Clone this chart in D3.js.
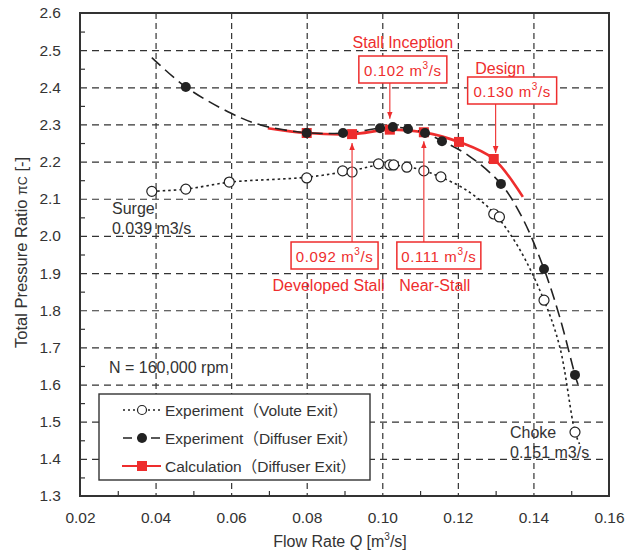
<!DOCTYPE html>
<html>
<head>
<meta charset="utf-8">
<script src="https://cdn.jsdelivr.net/npm/d3@7"></script>
<style>
  body { margin: 0; background: #fff; }
  text { font-family: "Liberation Sans", Arial, "Noto Sans CJK JP", sans-serif; }
</style>
</head>
<body>
<div id="chart"></div>
<script>
// Experiment (Volute Exit) - open circles
const voluteQ = [0.039, 0.048, 0.0595, 0.080, 0.0895, 0.092, 0.099, 0.102, 0.103, 0.1065, 0.111, 0.1155, 0.1295, 0.131, 0.1428, 0.151];
const voluteP = [2.120, 2.126, 2.145, 2.156, 2.175, 2.172, 2.194, 2.191, 2.191, 2.185, 2.175, 2.159, 2.059, 2.051, 1.827, 1.472];
// smoothed trend through the volute points
const voluteLineQ = [0.039, 0.048, 0.060, 0.080, 0.092, 0.100, 0.106, 0.111, 0.1155, 0.122, 0.1295, 0.136, 0.1428, 0.147, 0.151, 0.1522];
const voluteLineP = [2.120, 2.126, 2.145, 2.158, 2.176, 2.192, 2.187, 2.176, 2.158, 2.125, 2.062, 1.970, 1.827, 1.700, 1.472, 1.440];

// Experiment (Diffuser Exit) - filled circles
const diffQ = [0.048, 0.080, 0.0896, 0.0994, 0.1028, 0.1068, 0.1113, 0.1158, 0.1314, 0.1428, 0.151];
const diffP = [2.401, 2.277, 2.277, 2.290, 2.293, 2.288, 2.277, 2.255, 2.140, 1.911, 1.626];
const diffLineQ = [0.039, 0.048, 0.060, 0.068, 0.080, 0.090, 0.100, 0.103, 0.107, 0.111, 0.116, 0.123, 0.1314, 0.137, 0.1428, 0.147, 0.151, 0.1518];
const diffLineP = [2.480, 2.401, 2.330, 2.298, 2.278, 2.277, 2.291, 2.293, 2.288, 2.278, 2.255, 2.215, 2.140, 2.050, 1.911, 1.780, 1.626, 1.600];

// Calculation (Diffuser Exit) - red squares
const calcQ = [0.080, 0.092, 0.102, 0.111, 0.1203, 0.1295];
const calcP = [2.277, 2.274, 2.286, 2.279, 2.253, 2.207];
const calcLineQ = [0.0697, 0.080, 0.092, 0.102, 0.111, 0.1203, 0.1295, 0.1372];
const calcLineP = [2.290, 2.277, 2.274, 2.286, 2.279, 2.253, 2.207, 2.105];

const xTicks = [0.02, 0.04, 0.06, 0.08, 0.10, 0.12, 0.14, 0.16];
const xMinor = [0.03, 0.05, 0.07, 0.09, 0.11, 0.13, 0.15];
const yTicks = [1.3, 1.4, 1.5, 1.6, 1.7, 1.8, 1.9, 2.0, 2.1, 2.2, 2.3, 2.4, 2.5, 2.6];
const yMinor = [1.35, 1.45, 1.55, 1.65, 1.75, 1.85, 1.95, 2.05, 2.15, 2.25, 2.35, 2.45, 2.55];

const noteQ = [0.102, 0.130, 0.092, 0.111];
const noteP = [2.286, 2.207, 2.274, 2.279];
const noteTitle = ["Stall Inception", "Design", "Developed Stall", "Near-Stall"];
const noteValue = ["0.102", "0.130", "0.092", "0.111"];

const legendNames = ["Experiment（Volute Exit）", "Experiment（Diffuser Exit）", "Calculation（Diffuser Exit）"];

const width = 635, height = 554;
const margin = {top: 13, right: 26, bottom: 58, left: 80};
const red = "#ee2d2d";
const ink = "#222";

const x = d3.scaleLinear().domain([0.02, 0.16]).range([margin.left, width - margin.right]);
const y = d3.scaleLinear().domain([1.3, 2.6]).range([height - margin.bottom, margin.top]);

const svg = d3.select("#chart").append("svg")
    .attr("width", width)
    .attr("height", height);

// grid
svg.append("g")
    .attr("transform", `translate(0,${margin.top})`)
    .call(d3.axisBottom(x).tickValues(xTicks.slice(1, -1)).tickSize(height - margin.top - margin.bottom).tickFormat(""))
    .call(g => g.select(".domain").remove())
    .call(g => g.selectAll("line").attr("stroke", "#333").attr("stroke-width", 1.2).attr("stroke-dasharray", "6,4"));

svg.append("g")
    .attr("transform", `translate(${margin.left},0)`)
    .call(d3.axisRight(y).tickValues(yTicks.slice(1, -1)).tickSize(width - margin.left - margin.right).tickFormat(""))
    .call(g => g.select(".domain").remove())
    .call(g => g.selectAll("line").attr("stroke", "#333").attr("stroke-width", 1.2).attr("stroke-dasharray", "7,5"));

// minor ticks (inside)
svg.append("g")
    .attr("transform", `translate(0,${height - margin.bottom})`)
    .call(d3.axisTop(x).tickValues(xMinor).tickSize(5).tickFormat(""))
    .call(g => g.select(".domain").remove())
    .call(g => g.selectAll("line").attr("stroke", "#333").attr("stroke-width", 1.2));

svg.append("g")
    .attr("transform", `translate(${margin.left},0)`)
    .call(d3.axisRight(y).tickValues(yMinor).tickSize(5).tickFormat(""))
    .call(g => g.select(".domain").remove())
    .call(g => g.selectAll("line").attr("stroke", "#333").attr("stroke-width", 1.2));

// tick labels
svg.append("g")
    .attr("transform", `translate(0,${height - margin.bottom})`)
    .call(d3.axisBottom(x).tickValues(xTicks).tickSize(0).tickPadding(16).tickFormat(d3.format(".2f")))
    .call(g => g.select(".domain").remove())
    .call(g => g.selectAll("text").attr("font-size", 15.5).attr("fill", "#333")
        .style("font-family", '"Liberation Sans", Arial, sans-serif'));

svg.append("g")
    .attr("transform", `translate(${margin.left},0)`)
    .call(d3.axisLeft(y).tickValues(yTicks).tickSize(0).tickPadding(19).tickFormat(d3.format(".1f")))
    .call(g => g.select(".domain").remove())
    .call(g => g.selectAll("text").attr("font-size", 15.5).attr("fill", "#333")
        .style("font-family", '"Liberation Sans", Arial, sans-serif'));

// frame
svg.append("rect")
    .attr("x", margin.left).attr("y", margin.top)
    .attr("width", width - margin.left - margin.right)
    .attr("height", height - margin.top - margin.bottom)
    .attr("fill", "none").attr("stroke", "#333").attr("stroke-width", 2);

// axis titles
const xt = svg.append("text")
    .attr("x", 340).attr("y", 547)
    .attr("text-anchor", "middle").attr("font-size", 16).attr("fill", "#333");
xt.append("tspan").text("Flow Rate  ");
xt.append("tspan").attr("font-style", "italic").text("Q");
xt.append("tspan").text("  [m");
xt.append("tspan").attr("font-size", 10).attr("dy", -7).text("3");
xt.append("tspan").attr("dy", 7).text("/s]");

const yt = svg.append("text")
    .attr("transform", `translate(27,${(margin.top + height - margin.bottom) / 2 - 2}) rotate(-90)`)
    .attr("text-anchor", "middle").attr("font-size", 16.5).attr("fill", "#333");
yt.append("tspan").text("Total Pressure Ratio ");
yt.append("tspan").attr("font-size", 14).text("π");
yt.append("tspan").attr("font-size", 12.5).text("C");
yt.append("tspan").text(" [-]");

// series
const zip = (qs, ps) => qs.map((q, i) => [q, ps[i]]);
const line = d3.line().x(d => x(d[0])).y(d => y(d[1])).curve(d3.curveCatmullRom.alpha(0.5));

const plot = svg.append("g");

plot.append("path")
    .attr("d", line(zip(calcLineQ, calcLineP)))
    .attr("fill", "none").attr("stroke", red).attr("stroke-width", 2.6);

plot.append("path")
    .attr("d", line(zip(diffLineQ, diffLineP)))
    .attr("fill", "none").attr("stroke", ink).attr("stroke-width", 1.6)
    .attr("stroke-dasharray", "12,6");

plot.append("path")
    .attr("d", line(zip(voluteLineQ, voluteLineP)))
    .attr("fill", "none").attr("stroke", ink).attr("stroke-width", 1.6)
    .attr("stroke-dasharray", "2.5,3");

plot.selectAll("rect.calc")
    .data(zip(calcQ, calcP))
    .join("rect")
      .attr("class", "calc")
      .attr("x", d => x(d[0]) - 5).attr("y", d => y(d[1]) - 5)
      .attr("width", 10).attr("height", 10)
      .attr("fill", red);

plot.selectAll("circle.diff")
    .data(zip(diffQ, diffP))
    .join("circle")
      .attr("class", "diff")
      .attr("cx", d => x(d[0])).attr("cy", d => y(d[1]))
      .attr("r", 5).attr("fill", ink);

plot.selectAll("circle.vol")
    .data(zip(voluteQ, voluteP))
    .join("circle")
      .attr("class", "vol")
      .attr("cx", d => x(d[0])).attr("cy", d => y(d[1]))
      .attr("r", 5).attr("fill", "#fff").attr("stroke", ink).attr("stroke-width", 1.2);

// annotations
svg.append("defs").append("marker")
    .attr("id", "arrow")
    .attr("viewBox", "0 0 10 10")
    .attr("refX", 10).attr("refY", 5)
    .attr("markerWidth", 7).attr("markerHeight", 7)
    .attr("markerUnits", "userSpaceOnUse")
    .attr("orient", "auto")
  .append("path")
    .attr("d", "M0,1 L10,5 L0,9 Z")
    .attr("fill", red);

// box offset from the arrow, box top, title offset, arrow gap
const noteLayout = [
  {dx: -31, top: 56, w: 88, tx: 0, ty: 48, gap: -11},
  {dx: -28, top: 77, w: 89, tx: -12, ty: 74, gap: -6},
  {dx: -61, top: 242, w: 87, tx: -6, ty: 291, gap: 9},
  {dx: -27, top: 242, w: 84, tx: -4, ty: 291, gap: 9}
];

noteQ.forEach((q, i) => {
  const L = noteLayout[i];
  const ax = x(q);
  const bx = ax + L.dx;
  const g = svg.append("g");
  g.append("rect")
      .attr("x", bx).attr("y", L.top)
      .attr("width", L.w).attr("height", 27)
      .attr("fill", "#fff").attr("stroke", red).attr("stroke-width", 1.5);
  const t = g.append("text")
      .attr("x", bx + L.w / 2).attr("y", L.top + 19.5)
      .attr("text-anchor", "middle").attr("font-size", 15).attr("letter-spacing", 0.6).attr("fill", red);
  t.append("tspan").text(noteValue[i] + " m");
  t.append("tspan").attr("font-size", 10).attr("dy", -7).text("3");
  t.append("tspan").attr("dy", 7).text("/s");
  g.append("text")
      .attr("x", bx + L.w / 2 + L.tx).attr("y", L.ty)
      .attr("text-anchor", "middle").attr("font-size", 16).attr("fill", red)
      .text(noteTitle[i]);
  const y0 = L.gap < 0 ? L.top + 27 : L.top;
  g.append("line")
      .attr("x1", ax).attr("x2", ax)
      .attr("y1", y0).attr("y2", y(noteP[i]) + L.gap)
      .attr("stroke", red).attr("stroke-width", 1.1)
      .attr("marker-end", "url(#arrow)");
});

// free labels
const labels = [
  {t: "Surge", x: 112, y: 214},
  {t: "0.039 m3/s", x: 112, y: 234},
  {t: "Choke", x: 510, y: 438},
  {t: "0.151 m3/s", x: 510, y: 458},
  {t: "N = 160,000 rpm", x: 109, y: 373}
];
svg.append("g").selectAll("text")
  .data(labels)
  .join("text")
    .attr("x", d => d.x).attr("y", d => d.y)
    .attr("font-size", 16).attr("fill", "#333")
    .text(d => d.t);

// legend
const lg = svg.append("g");
lg.append("rect")
    .attr("x", 99).attr("y", 394).attr("width", 271).attr("height", 86)
    .attr("fill", "#fff").attr("stroke", "#333").attr("stroke-width", 1.4);

const rowY = [410, 438, 466];
lg.append("line").attr("x1", 123).attr("x2", 161).attr("y1", rowY[0]).attr("y2", rowY[0])
    .attr("stroke", ink).attr("stroke-width", 1.3).attr("stroke-dasharray", "2,3");
lg.append("circle").attr("cx", 142).attr("cy", rowY[0]).attr("r", 4.5)
    .attr("fill", "#fff").attr("stroke", ink).attr("stroke-width", 1.2);
lg.append("line").attr("x1", 123).attr("x2", 161).attr("y1", rowY[1]).attr("y2", rowY[1])
    .attr("stroke", ink).attr("stroke-width", 1.5).attr("stroke-dasharray", "9,5");
lg.append("circle").attr("cx", 142).attr("cy", rowY[1]).attr("r", 5).attr("fill", ink);
lg.append("line").attr("x1", 122).attr("x2", 161).attr("y1", rowY[2]).attr("y2", rowY[2])
    .attr("stroke", red).attr("stroke-width", 2);
lg.append("rect").attr("x", 137).attr("y", rowY[2] - 5).attr("width", 10).attr("height", 10).attr("fill", red);

lg.selectAll("text.lt")
  .data(legendNames)
  .join("text")
    .attr("class", "lt")
    .attr("x", 165).attr("y", (d, i) => rowY[i] + 5.5)
    .attr("font-size", 15.5).attr("fill", "#333")
    .text(d => d);
</script>
</body>
</html>
